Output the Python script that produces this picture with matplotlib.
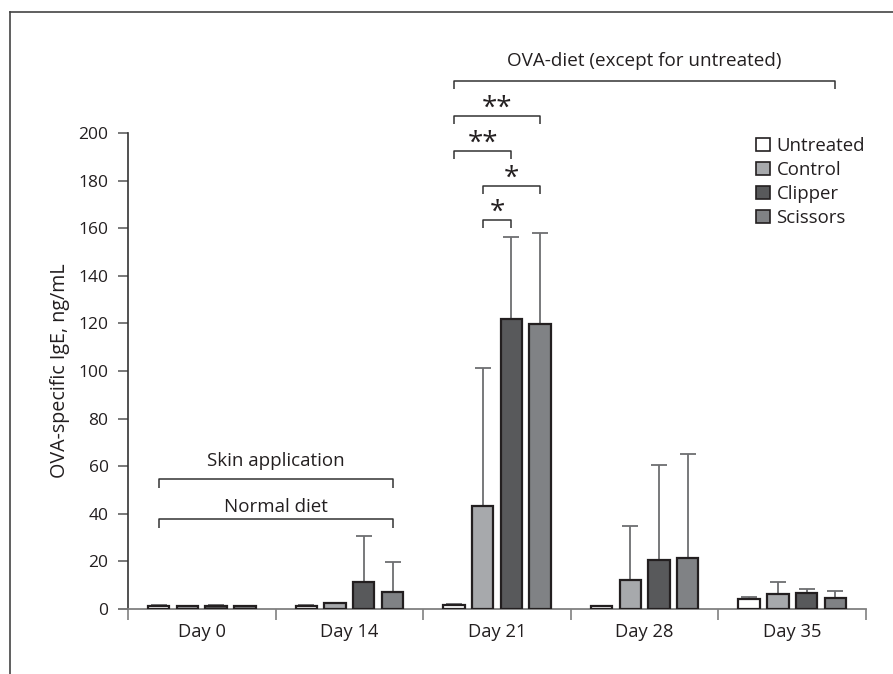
import matplotlib
matplotlib.use('Agg')
import matplotlib.pyplot as plt
from matplotlib.patches import Patch
from matplotlib.lines import Line2D
import numpy as np

plt.rcParams['font.family'] = ['Open Sans', 'DejaVu Sans']

days = ['Day 0', 'Day 14', 'Day 21', 'Day 28', 'Day 35']
groups = ['Untreated', 'Control', 'Clipper', 'Scissors']
untreated = [1.4, 1.4, 1.7, 1.3, 4.1]
untreated_err = [0.4, 0.4, 0.4, 0.0, 0.8]
control = [1.4, 2.4, 43.3, 12.0, 6.2]
control_err = [0.0, 0.0, 57.8, 22.9, 5.3]
clipper = [1.4, 11.3, 121.8, 20.4, 6.9]
clipper_err = [0.4, 19.4, 34.5, 40.1, 1.5]
scissors = [1.4, 7.3, 119.7, 21.6, 4.5]
scissors_err = [0.0, 12.3, 38.4, 43.5, 3.2]
yticks = [0, 20, 40, 60, 80, 100, 120, 140, 160, 180, 200]

values = [untreated, control, clipper, scissors]
errors = [untreated_err, control_err, clipper_err, scissors_err]
colors = ['#ffffff', '#a7a9ac', '#58595b', '#808285']
edge = '#231f20'
txt = '#231f20'

fig = plt.figure(figsize=(8.93, 6.74), dpi=100)
ax = fig.add_axes([128/893, 1-609/674, (866-128)/893, (609-133)/674])

x = np.arange(len(days))
step = 0.195
width = 0.145
for i, (vals, errs, c) in enumerate(zip(values, errors, colors)):
    pos = x + (i - 1.5) * step
    ax.bar(pos, vals, width=width, color=c, edgecolor=edge, linewidth=1.6, zorder=3)
    ax.errorbar(pos, vals, yerr=[np.zeros(len(errs)), errs], fmt='none',
                ecolor='#6d6e71', elinewidth=1.3, capsize=5.5, capthick=1.3, zorder=2)

ax.set_xlim(-0.5, len(days) - 0.5)
ax.set_ylim(0, 200)
ax.set_yticks(yticks)
ax.set_xticks(x)
ax.set_xticklabels(days)
ax.set_xticks(np.arange(len(days) + 1) - 0.5, minor=True)
ax.tick_params(axis='x', which='major', length=0, pad=10, labelsize=13.2, labelcolor=txt)
ax.tick_params(axis='x', which='minor', length=8, width=1.2, color='#808080', direction='out')
ax.tick_params(axis='y', length=7, width=1.1, color='#555555', labelsize=12.5, labelcolor=txt, pad=7)
for s in ['top', 'right']:
    ax.spines[s].set_visible(False)
ax.spines['left'].set_color('#333333')
ax.spines['left'].set_linewidth(1.2)
ax.spines['bottom'].set_color('#808080')
ax.spines['bottom'].set_linewidth(1.3)
ax.set_ylabel('OVA-specific IgE, ng/mL', fontsize=14.2, color=txt, labelpad=6)

def bar_x(day, grp):
    return day + (grp - 1.5) * step

def bracket(x0, x1, y, drop=3.4, lw=1.1, color='#333333'):
    ax.plot([x0, x0, x1, x1], [y - drop, y, y, y - drop], color=color, lw=lw,
            clip_on=False, solid_capstyle='butt', zorder=4)

# OVA diet bracket
bracket(bar_x(2, 0), bar_x(4, 3), 221.8)
ax.text((bar_x(2, 0) + bar_x(4, 3)) / 2, 228.2, 'OVA-diet (except for untreated)',
        ha='center', va='baseline', fontsize=13.6, color=txt, clip_on=False)

# significance
sig_g0 = [0, 0, 1, 1]
sig_g1 = [3, 2, 3, 2]
sig_lab = ['**', '**', '*', '*']
sig_y = [207.1, 192.4, 177.7, 163.4]
for g0, g1, lab, yy in zip(sig_g0, sig_g1, sig_lab, sig_y):
    x0, x1 = bar_x(2, g0), bar_x(2, g1)
    bracket(x0, x1, yy)
    ax.text((x0 + x1) / 2, yy + 0.3, lab, ha='center', va='baseline', fontsize=20,
            color=txt, clip_on=False)

# skin application / normal diet
bracket(bar_x(0, 0), bar_x(1, 3), 54.5, drop=3.8)
ax.text((bar_x(0, 0) + bar_x(1, 3)) / 2, 60.1, 'Skin application', ha='center',
        va='baseline', fontsize=13.5, color=txt)
bracket(bar_x(0, 0), bar_x(1, 3), 37.7, drop=3.8)
ax.text((bar_x(0, 0) + bar_x(1, 3)) / 2, 40.9, 'Normal diet', ha='center',
        va='baseline', fontsize=13.5, color=txt)

handles = [Patch(facecolor=c, edgecolor=edge, linewidth=1.2) for c in colors]
leg = ax.legend(handles, groups, loc='upper left', bbox_to_anchor=(756/893, 1-137/674),
                bbox_transform=fig.transFigure, frameon=False, fontsize=13.4,
                handlelength=0.75, handleheight=0.75, handletextpad=0.35,
                labelspacing=0.32, borderpad=0, borderaxespad=0)
for t in leg.get_texts():
    t.set_color(txt)

# figure frame (top and left)
fig.add_artist(Line2D([10/893, 1.0], [1-12/674, 1-12/674], transform=fig.transFigure,
                      color='#444444', lw=1.2))
fig.add_artist(Line2D([10/893, 10/893], [1-12/674, 0.0], transform=fig.transFigure,
                      color='#444444', lw=1.2))

fig.savefig('out.png', dpi=100)
